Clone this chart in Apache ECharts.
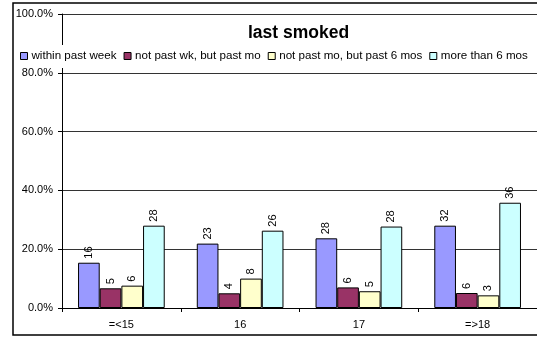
<!DOCTYPE html>
<html>
<head>
<meta charset="utf-8">
<script src="https://cdn.jsdelivr.net/npm/echarts@6/dist/echarts.min.js"></script>
<style>
  html, body { margin: 0; padding: 0; background: #fff; }
  #chart { width: 537px; height: 337px; }
</style>
</head>
<body>
<div id="chart"></div>
<script>
// Age groups along the x axis
const categories = ['=<15', '16', '17', '=>18'];

// Series names (time since last smoked)
const seriesNames = [
  'within past week',
  'not past wk, but past mo',
  'not past mo, but past 6 mos',
  'more than 6 mos'
];

// Share of respondents in each age group (percent)
const pctWithinWeek = [15.4, 21.9, 23.7, 28.0];
const pctPastMonth  = [6.7, 5.0, 7.0, 5.1];
const pctPast6Mos   = [7.6, 10.0, 5.7, 4.3];
const pctOver6Mos   = [28.0, 26.3, 27.7, 35.8];

// Respondent counts printed above each bar
const nWithinWeek = [16, 23, 28, 32];
const nPastMonth  = [5, 4, 6, 6];
const nPast6Mos   = [6, 8, 5, 3];
const nOver6Mos   = [28, 26, 28, 36];

// Y axis tick values (percent)
const yTicks = [0, 20, 40, 60, 80, 100];

const colors = ['#9999FF', '#993366', '#FFFFCC', '#CCFFFF'];
const pctSets = [pctWithinWeek, pctPastMonth, pctPast6Mos, pctOver6Mos];
const countSets = [nWithinWeek, nPastMonth, nPast6Mos, nOver6Mos];

const FONT = 'Liberation Sans, Arial, sans-serif';

const chart = echarts.init(document.getElementById('chart'), null, { renderer: 'canvas' });

const series = seriesNames.map((name, i) => ({
  name: name,
  type: 'bar',
  data: pctSets[i],
  barGap: '0%',
  barCategoryGap: '27%',
  itemStyle: { color: colors[i], borderColor: '#000', borderWidth: 1 },
  label: {
    show: true,
    position: 'top',
    rotate: 90,
    align: 'left',
    verticalAlign: 'middle',
    distance: 4,
    fontFamily: FONT,
    fontSize: 11,
    color: '#000',
    formatter: p => String(countSets[i][p.dataIndex])
  },
  z: 3
}));

chart.setOption({
  animation: false,
  backgroundColor: '#fff',
  title: {
    text: 'last smoked',
    left: 248,
    top: 24,
    padding: 0,
    textStyle: { fontFamily: FONT, fontSize: 17.5, fontWeight: 'bold', color: '#000' }
  },
  legend: {
    data: seriesNames,
    left: 15,
    top: 45,
    orient: 'horizontal',
    backgroundColor: '#fff',
    padding: [5, 5, 6, 5],
    itemWidth: 7,
    itemHeight: 7,
    itemGap: 7,
    icon: 'rect',
    itemStyle: { borderColor: '#000', borderWidth: 1 },
    textStyle: { fontFamily: FONT, fontSize: 11.6, color: '#000', padding: [0, 0, 0, -1] },
    z: 10
  },
  grid: { left: 62, right: -5, top: 14, bottom: 29, containLabel: false },
  xAxis: {
    type: 'category',
    data: categories,
    axisLine: { show: true, lineStyle: { color: '#000', width: 1 } },
    axisTick: { show: true, alignWithLabel: false, length: 4, inside: false, lineStyle: { color: '#000' } },
    axisLabel: { fontFamily: FONT, fontSize: 11, color: '#000', margin: 11 },
    splitLine: { show: false }
  },
  yAxis: {
    type: 'value',
    min: yTicks[0],
    max: yTicks[yTicks.length - 1],
    interval: 20,
    axisLine: { show: true, lineStyle: { color: '#000', width: 1 } },
    axisTick: { show: true, length: 4, lineStyle: { color: '#000' } },
    axisLabel: {
      fontFamily: FONT, fontSize: 11, color: '#000', margin: 9,
      formatter: v => v.toFixed(1) + '%'
    },
    splitLine: { show: true, lineStyle: { color: '#333', width: 1 } }
  },
  graphic: [{
    type: 'rect',
    shape: { x: 13, y: 3, width: 600, height: 332 },
    style: { fill: 'none', stroke: '#000', lineWidth: 1.5 },
    silent: true,
    z: 100
  }],
  series: series
});
</script>
</body>
</html>
